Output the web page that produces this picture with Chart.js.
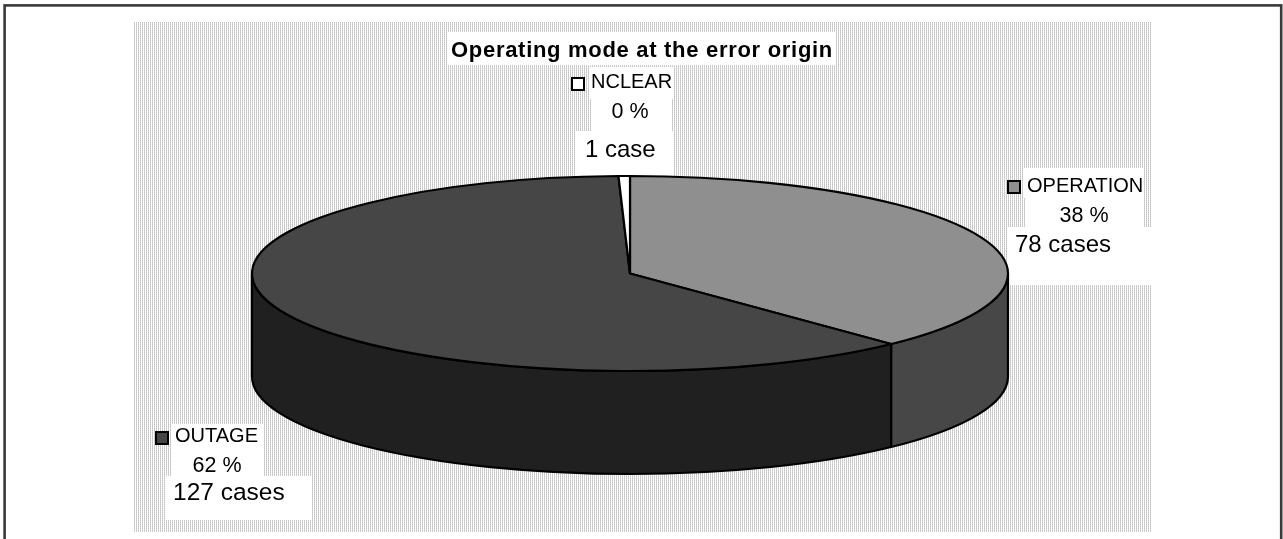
<!DOCTYPE html>
<html>
<head>
<meta charset="utf-8">
<title>Operating mode at the error origin</title>
<script src="https://cdn.jsdelivr.net/npm/chart.js@4/dist/chart.umd.min.js"></script>
<style>
  html, body { margin: 0; padding: 0; background: #fff; }
  #wrap { position: relative; width: 1283px; height: 539px; }
</style>
</head>
<body>
<div id="wrap"><canvas id="chart"></canvas></div>
<script>
// ---- data ----
const categories = ['OPERATION', 'OUTAGE', 'NCLEAR'];
const cases = [78, 127, 1];
const chartTitle = 'Operating mode at the error origin';

// ---- styling ----
const topColors = ['#8f8f8f', '#464646', '#ffffff'];
const sideColors = ['#474747', '#202020', '#d0d0d0'];
const FONT = '"Liberation Sans", Arial, Helvetica, sans-serif';

// label placement for each slice: legend key, then three text rows
// (name, percentage, case count), each with its own white backing box
const labelLayout = [
  { key: [1007, 180], rows: [
    { box: [1023, 168, 1143, 198], x: 1027, y: 192, align: 'left',   size: 20 },
    { box: [1025, 198, 1143, 227], x: 1084, y: 222, align: 'center', size: 21.5 },
    { box: [1007, 227, 1153, 285], x: 1015, y: 252, align: 'left',   size: 24 } ] },
  { key: [155, 431], rows: [
    { box: [172, 424, 263, 448], x: 175, y: 442, align: 'left',   size: 20 },
    { box: [172, 448, 263, 476], x: 217, y: 472, align: 'center', size: 21.5 },
    { box: [165, 476, 311, 520], x: 173, y: 500, align: 'left',   size: 24.5 } ] },
  { key: [571, 77], rows: [
    { box: [589, 67, 674, 99],   x: 591, y: 88,  align: 'left',   size: 20 },
    { box: [592, 99, 672, 131],  x: 630, y: 118, align: 'center', size: 21.5 },
    { box: [575, 131, 673, 176], x: 585, y: 157, align: 'left',   size: 24 } ] }
];

const total = cases.reduce((a, b) => a + b, 0);
const rowText = (i, r) => {
  if (r === 0) return categories[i];
  if (r === 1) return Math.round(cases[i] / total * 100) + ' %';
  return cases[i] + (cases[i] === 1 ? ' case' : ' cases');
};

// hatched plot-area fill
function hatchPattern(ctx) {
  const p = document.createElement('canvas');
  p.width = 2; p.height = 2;
  const pc = p.getContext('2d');
  pc.fillStyle = '#ffffff'; pc.fillRect(0, 0, 2, 2);
  pc.fillStyle = '#c4c4c4'; pc.fillRect(0, 0, 1, 1);
  pc.fillStyle = '#d2d2d2'; pc.fillRect(0, 1, 1, 1);
  return ctx.createPattern(p, 'repeat');
}

// frame, plot area, title and label boxes behind the pie
const backdrop = {
  id: 'backdrop',
  beforeDraw(chart) {
    const ctx = chart.ctx;
    ctx.save();
    ctx.fillStyle = '#ffffff';
    ctx.fillRect(0, 0, chart.width, chart.height);
    ctx.fillStyle = hatchPattern(ctx);
    ctx.fillRect(134, 22, 1018, 510);
    ctx.strokeStyle = '#3a3a3a';
    ctx.lineWidth = 2.6;
    ctx.strokeRect(4.6, 5.4, 1276.6, 600);
    // title box
    ctx.fillStyle = '#ffffff';
    ctx.fillRect(447, 32, 388, 33);
    labelLayout.forEach(l => l.rows.forEach(r => {
      const [x0, y0, x1, y1] = r.box;
      ctx.fillRect(x0, y0, x1 - x0, y1 - y0);
    }));
    ctx.restore();
  }
};

// extruded elliptical pie built from the arc elements' angles
const pie3d = {
  id: 'pie3d',
  beforeDatasetsDraw(chart, args, opts) {
    const ctx = chart.ctx;
    const arcs = chart.getDatasetMeta(0).data;
    ctx.save();
    ctx.lineWidth = opts.lineWidth;
    ctx.strokeStyle = '#000';
    ctx.lineJoin = 'round';
    const geo = arcs.map(a => a.getProps(['x', 'y', 'outerRadius', 'startAngle', 'endAngle'], true));
    // front walls: only the part facing the viewer (angles 0..PI)
    geo.forEach((g, i) => {
      const r = g.outerRadius, ry = r * opts.tilt, d = opts.depth;
      const a0 = Math.max(g.startAngle, 0), a1 = Math.min(g.endAngle, Math.PI);
      if (a1 <= a0) return;
      ctx.beginPath();
      ctx.ellipse(g.x, g.y, r, ry, 0, a0, a1);
      ctx.lineTo(g.x + r * Math.cos(a1), g.y + ry * Math.sin(a1) + d);
      ctx.ellipse(g.x, g.y + d, r, ry, 0, a1, a0, true);
      ctx.closePath();
      ctx.fillStyle = sideColors[i];
      ctx.fill();
      ctx.stroke();
    });
    // top faces
    geo.forEach((g, i) => {
      const r = g.outerRadius, ry = r * opts.tilt;
      ctx.beginPath();
      ctx.moveTo(g.x, g.y);
      ctx.ellipse(g.x, g.y, r, ry, 0, g.startAngle, g.endAngle);
      ctx.closePath();
      ctx.fillStyle = topColors[i];
      ctx.fill();
      ctx.stroke();
    });
    ctx.restore();
    return false;
  }
};

// title and data labels
const labels = {
  id: 'labels',
  afterDraw(chart) {
    const ctx = chart.ctx;
    ctx.save();
    ctx.fillStyle = '#000';
    ctx.textBaseline = 'alphabetic';
    ctx.font = 'bold 22px ' + FONT;
    ctx.letterSpacing = '0.7px';
    ctx.textAlign = 'center';
    ctx.fillText(chartTitle, 642, 57);
    ctx.letterSpacing = '0px';
    labelLayout.forEach((l, i) => {
      const [kx, ky] = l.key;
      ctx.fillStyle = topColors[i];
      ctx.fillRect(kx, ky, 13, 13);
      ctx.strokeStyle = '#000';
      ctx.lineWidth = 2;
      ctx.strokeRect(kx + 1, ky + 1, 12, 12);
      ctx.fillStyle = '#000';
      l.rows.forEach((r, k) => {
        ctx.font = r.size + 'px ' + FONT;
        ctx.textAlign = r.align;
        ctx.fillText(rowText(i, k), r.x, r.y);
      });
    });
    ctx.restore();
  }
};

new Chart(document.getElementById('chart'), {
  type: 'pie',
  data: {
    labels: categories,
    datasets: [{
      data: cases,
      backgroundColor: topColors,
      borderColor: '#000',
      borderWidth: 2,
      radius: 378
    }]
  },
  options: {
    responsive: true,
    maintainAspectRatio: false,
    animation: false,
    events: [],
    layout: { padding: { left: 0, right: 23, top: 8, bottom: 0 } },
    plugins: {
      legend: { display: false },
      tooltip: { enabled: false },
      title: { display: false },
      pie3d: { tilt: 0.258, depth: 103, lineWidth: 2.2 }
    }
  },
  plugins: [backdrop, pie3d, labels]
});
</script>
</body>
</html>
